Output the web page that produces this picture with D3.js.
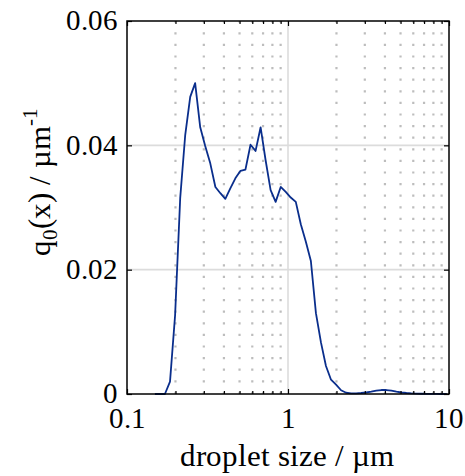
<!DOCTYPE html>
<html><head><meta charset="utf-8">
<script src="https://cdn.jsdelivr.net/npm/d3@7"></script>
<style>
@font-face { font-family: "ChartSerif"; src: local("Liberation Serif"), local("LiberationSerif"), local("LiberationSerif-Regular"), local("Times New Roman"); }
</style>
</head><body style="margin:0">
<svg id="c" width="465" height="476"></svg>
<script>
const sizes = [0.149,0.160,0.172,0.185,0.199,0.214,0.230,0.247,0.265,0.285,0.306,0.329,0.354,0.380,0.408,0.439,0.471,0.507,0.544,0.585,0.629,0.676,0.726,0.780,0.838,0.901,0.968,1.040,1.118,1.201,1.291,1.387,1.491,1.602,1.721,1.850,1.988,2.136,2.296,2.467,2.651,2.849,3.061,3.290,3.535,3.799,4.082,4.387,4.714,5.066,5.444,5.850,6.286,6.755,7.259,7.801,8.383,9.008,9.680];
const q0 = [0,0,0,0.0020,0.0127,0.0315,0.0417,0.0478,0.0500,0.0429,0.0399,0.0371,0.0333,0.0323,0.0314,0.0331,0.0347,0.0359,0.0361,0.0401,0.0391,0.0429,0.0376,0.0328,0.0309,0.0333,0.0325,0.0316,0.0309,0.0273,0.0245,0.0214,0.0130,0.0083,0.0045,0.0023,0.0015,0.0006,0.0002,0.0001,0.0001,0.00016,0.00024,0.00037,0.00053,0.00064,0.00064,0.00053,0.00037,0.00024,0.00016,0.0001,0.00006,0.00004,0.00003,0.00002,0.00001,0,0];
const xMajor = [0.1,1,10];
const xMajorLabels = ["0.1","1","10"];
const xMinor = [0.2,0.3,0.4,0.5,0.6,0.7,0.8,0.9,2,3,4,5,6,7,8,9];
const yTicks = [0,0.02,0.04,0.06];
const yTickLabels = ["0","0.02","0.04","0.06"];

const FONT = '"ChartSerif", "Liberation Serif", "Times New Roman", serif';

const L=127,R=449,T=21,B=394;
const svg=d3.select("#c");
const x=d3.scaleLog().domain([0.1,10]).range([L,R]);
const y=d3.scaleLinear().domain([0,0.06]).range([B,T]);

// dotted minor grid
svg.append("g").selectAll("line").data(xMinor).join("line")
  .attr("x1",d=>x(d)).attr("x2",d=>x(d)).attr("y1",T).attr("y2",B)
  .attr("stroke","#bdbdbd").attr("stroke-width",2.2)
  .attr("stroke-dasharray","2.2,9.4").attr("stroke-dashoffset",0.4);
// major grid
svg.append("g").selectAll("line").data([1]).join("line")
  .attr("x1",d=>x(d)).attr("x2",d=>x(d)).attr("y1",T).attr("y2",B)
  .attr("stroke","#dcdcdc").attr("stroke-width",1.6);
svg.append("g").selectAll("line").data([0.02,0.04]).join("line")
  .attr("x1",L).attr("x2",R).attr("y1",d=>y(d)).attr("y2",d=>y(d))
  .attr("stroke","#dcdcdc").attr("stroke-width",1.6);

// line
svg.append("path").datum(sizes.map((s,i)=>[s,q0[i]]))
  .attr("fill","none").attr("stroke","#0a2e8c").attr("stroke-width",1.8)
  .attr("stroke-linejoin","round")
  .attr("d",d3.line().x(d=>x(d[0])).y(d=>y(d[1])));

// tick marks via axes
function styleAxis(g){g.select(".domain").remove();g.selectAll(".tick line").attr("stroke","#000").attr("stroke-width",1.2);g.selectAll("text").remove();}
svg.append("g").attr("transform",`translate(0,${B})`).call(d3.axisBottom(x).tickValues(xMajor).tickSize(-5)).call(styleAxis);
svg.append("g").attr("transform",`translate(0,${B})`).call(d3.axisBottom(x).tickValues(xMinor).tickSize(-3)).call(styleAxis);
svg.append("g").attr("transform",`translate(0,${T})`).call(d3.axisTop(x).tickValues(xMajor).tickSize(-5)).call(styleAxis);
svg.append("g").attr("transform",`translate(0,${T})`).call(d3.axisTop(x).tickValues(xMinor).tickSize(-3)).call(styleAxis);
svg.append("g").attr("transform",`translate(${L},0)`).call(d3.axisLeft(y).tickValues(yTicks).tickSize(-5)).call(styleAxis);
svg.append("g").attr("transform",`translate(${R},0)`).call(d3.axisRight(y).tickValues(yTicks).tickSize(-5)).call(styleAxis);

// frame
svg.append("rect").attr("x",L).attr("y",T).attr("width",R-L).attr("height",B-T)
  .attr("fill","none").attr("stroke","#000").attr("stroke-width",1.5);

// tick labels
const fs=29, ft=31;
svg.append("g").selectAll("text").data(xMajor).join("text")
  .attr("x",d=>x(d)).attr("y",428).attr("text-anchor","middle")
  .attr("font-family",FONT).attr("font-size",fs).attr("fill","#000")
  .text((d,i)=>xMajorLabels[i]);
svg.append("g").selectAll("text").data(yTicks).join("text")
  .attr("x",L-9).attr("y",d=>y(d)).attr("dy","0.32em").attr("text-anchor","end")
  .attr("font-family",FONT).attr("font-size",fs).attr("fill","#000")
  .text((d,i)=>yTickLabels[i]);

// titles
svg.append("text").attr("x",287).attr("y",466).attr("text-anchor","middle")
  .attr("font-family",FONT).attr("font-size",ft).attr("fill","#000").text("droplet size / µm");
const yt=svg.append("text").attr("transform",`translate(50,182) rotate(-90)`)
  .attr("text-anchor","middle").attr("font-family",FONT).attr("font-size",ft).attr("fill","#000");
yt.append("tspan").text("q");
yt.append("tspan").attr("dy",7).attr("font-size",21).text("0");
yt.append("tspan").attr("dy",-7).text("(x) / µm");
yt.append("tspan").attr("dy",-13).attr("font-size",21).text("-1");
</script></body></html>
